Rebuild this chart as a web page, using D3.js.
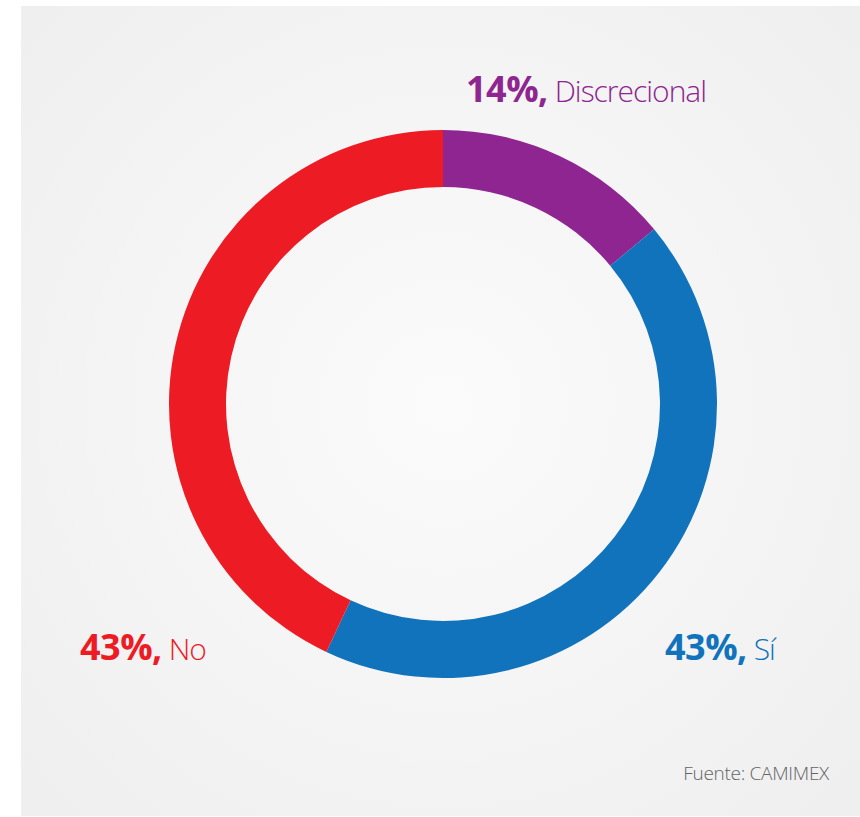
<!DOCTYPE html>
<html lang="es">
<head>
<meta charset="UTF-8"/>
<title>Donut CAMIMEX</title>
<script src="https://d3js.org/d3.v7.min.js"></script>
<style>
    body { margin: 0; background: #ffffff; }
    svg { display: block; }
</style>
</head>
<body>
<script>
    // Data
    var categories = ["Discrecional", "Sí", "No"];
    var values = [14, 43, 43];
    var colors = ["#8e2590", "#1173bb", "#ed1c24"];

    var W = 860, H = 817;
    var cx = 443, cy = 404;
    var outerR = 274, innerR = 217;

    var svg = d3.select("body")
                .append("svg")
                .attr("width", W)
                .attr("height", H);

    // Background panel with soft radial gradient
    var grad = svg.append("defs")
                  .append("radialGradient")
                  .attr("id", "bg")
                  .attr("gradientUnits", "userSpaceOnUse")
                  .attr("cx", cx).attr("cy", cy).attr("r", 560);
    grad.append("stop").attr("offset", "0%").attr("stop-color", "#fbfbfb");
    grad.append("stop").attr("offset", "100%").attr("stop-color", "#efefef");

    svg.append("rect")
       .attr("x", 21).attr("y", 6)
       .attr("width", W - 21).attr("height", H - 7)
       .attr("fill", "url(#bg)");

    var pie = d3.pie().sort(null).value(function(d) { return d; });
    var arc = d3.arc().innerRadius(innerR).outerRadius(outerR);

    var g = svg.append("g")
               .attr("transform", "translate(" + cx + "," + cy + ")");

    g.selectAll("path")
     .data(pie(values))
     .enter()
     .append("path")
     .attr("d", arc)
     .attr("fill", function(d, i) { return colors[i]; });

    // Labels
    var labelPos = [
        { x: 466, y: 102 },
        { x: 665, y: 660 },
        { x: 80, y: 660 }
    ];

    categories.forEach(function(c, i) {
        var t = svg.append("text")
                   .attr("x", labelPos[i].x)
                   .attr("y", labelPos[i].y)
                   .attr("fill", colors[i])
                   .style("font-family", "'Open Sans', sans-serif");
        t.append("tspan")
         .style("font-weight", 700)
         .style("font-size", "36px")
         .style("letter-spacing", "-0.5px")
         .text(values[i] + "%,");
        t.append("tspan")
         .style("font-weight", 300)
         .style("font-size", "30px")
         .style("letter-spacing", "-1px")
         .text(" " + c);
    });

    svg.append("text")
       .attr("x", 829)
       .attr("y", 780)
       .attr("text-anchor", "end")
       .attr("fill", "#636466")
       .style("font-family", "'Open Sans', sans-serif")
       .style("font-weight", 300)
       .style("font-size", "19px")
       .style("letter-spacing", "-0.3px")
       .text("Fuente: CAMIMEX");
</script>
</body>
</html>
